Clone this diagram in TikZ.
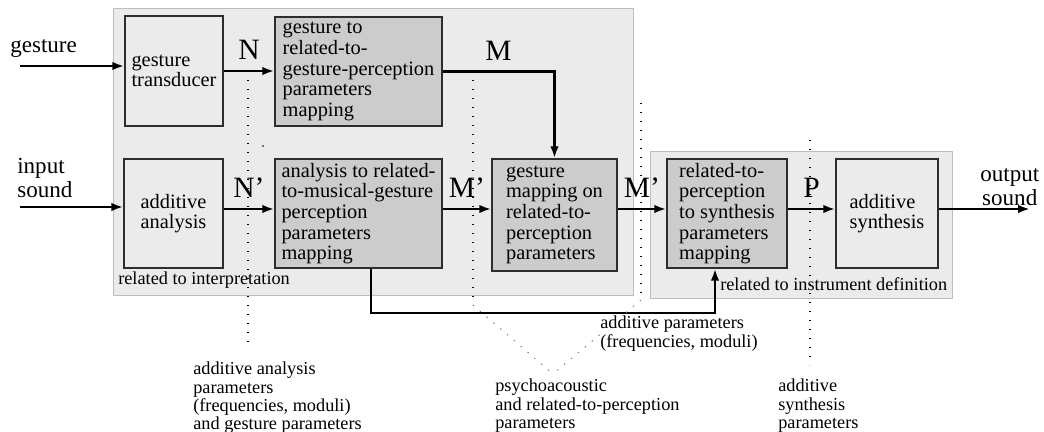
\documentclass[tikz,border=0pt]{standalone}
\usepackage{fontspec}
\setmainfont{Liberation Serif}
\usetikzlibrary{arrows.meta}
\definecolor{panelgray}{RGB}{235,235,235}
\definecolor{panelrim}{RGB}{190,190,190}
\definecolor{boxdark}{RGB}{204,204,204}
\definecolor{boxrim}{RGB}{45,45,45}
\newcommand{\blockfont}{\fontsize{14.5}{14.7}\selectfont}
\newcommand{\tagfont}{\fontsize{21}{21}\selectfont}
\newcommand{\portfont}{\fontsize{16.4}{17.5}\selectfont}
\newcommand{\remfont}{\fontsize{13}{12.9}\selectfont}

\begin{document}
\begin{tikzpicture}[x=0.025cm,y=-0.025cm,
    panel/.style={draw=panelrim,fill=panelgray,line width=0.6pt},
    block/.style={draw=boxrim,fill=panelgray,line width=0.9pt,inner sep=0pt,align=left,font=\blockfont},
    darkblock/.style={block,fill=boxdark},
    flow/.style={line width=1.9pt,-{Latex[length=8.5pt,width=6pt]}},
    tag/.style={font=\tagfont,inner sep=0pt,above=7pt},
    io/.style={font=\portfont,inner sep=0pt},
    remark/.style={font=\remfont,inner sep=0pt,align=left,anchor=north west},
    guide/.style={line width=1pt,dash pattern=on 1pt off 5.4pt},
    slant/.style={guide,gray,line width=0.7pt}]

    \useasboundingbox (0,0) rectangle (1044,432);

    % the two grey areas
    \draw[panel] (113,8) rectangle (633,295);
    \draw[panel] (650,151) rectangle (952,298);
    \node[remark,anchor=base west] (interp) at (118,284) {related to interpretation};
    \node[remark,anchor=base west] (instr) at (720,290) {related to instrument definition};

    % blocks
    \node[block,minimum width=2.45cm,minimum height=2.75cm] (trans) at (174,71) {gesture\\transducer};
    \node[block,minimum width=2.475cm,minimum height=2.725cm] (ana) at (173.5,213.5) {additive\\analysis};
    \node[darkblock,minimum width=4.175cm,minimum height=2.725cm] (gtp) at (358.5,71.5)
        {gesture to\\related-to-\\gesture-perception\\parameters\\mapping};
    \node[darkblock,minimum width=4.175cm,minimum height=2.725cm] (atr) at (358.5,213.5)
        {analysis to related-\\to-musical-gesture\\perception\\parameters\\mapping};
    \node[darkblock,minimum width=3.125cm,minimum height=2.8cm] (gmap) at (554.5,215)
        {gesture\\mapping on\\related-to-\\perception\\parameters};
    \node[darkblock,minimum width=3cm,minimum height=2.725cm] (rps) at (727,213.5)
        {related-to-\\perception\\to synthesis\\parameters\\mapping};
    \node[block,minimum width=2.55cm,minimum height=2.725cm] (syn) at (887,213.5) {additive\\synthesis};

    % inputs and output
    \coordinate (gin) at (20,66);
    \coordinate (sin) at (20,207);
    \coordinate (sout) at (1030,209);
    \coordinate (row) at (0,209);
    \node[io,anchor=west] (gestlbl) at (10,49) {gesture};
    \node[io,align=left,anchor=west] (inlbl) at (17,178) {input\\sound};
    \node[io,align=center,anchor=west] (outlbl) at (980,187) {output\\sound};
    \draw[flow] (gin) -- (trans.west |- gin);
    \draw[flow] (sin) -- (ana.west |- sin);
    \draw[flow] (syn.east |- row) -- (sout);

    % signal flow
    \draw[flow] (trans.east) -- (trans.east -| gtp.west) node[tag,midway] (lblN) {N};
    \draw[flow] (gtp.east) -| (gmap.north) node[tag,pos=0.25] (lblM) {M};
    \draw[flow] (ana.east |- row) -- (atr.west |- row) node[tag,midway] (lblNp) {N’};
    \draw[flow] (atr.east |- row) -- (gmap.west |- row) node[tag,midway] (lblMp) {M’};
    \draw[flow] (gmap.east |- row) -- (rps.west |- row) node[tag,midway] (lblMq) {M’};
    \draw[flow] (rps.east |- row) -- (syn.west |- row) node[tag,midway] (lblP) {P};

    \coordinate (fbl) at (371,313);
    \coordinate (fbr) at (715,313);
    \draw[flow] (atr.south -| fbl) -- (fbl) -- (fbr) -- (rps.south -| fbr);

    % dotted guides
    \draw[guide] (248,80) -- (248,345);
    \fill (263,146) circle (0.7pt);
    \draw[guide] (473,80) -- (473,305);
    \draw[slant] (473,305) -- (553,374);
    \draw[guide] (641,103) -- (641,300);
    \draw[slant] (641,300) -- (553,374);
    \draw[guide] (810,140) -- (810,365);

    % parameter notes
    \node[remark,fill=white] (addpar) at (600,316) {additive parameters\\(frequencies, moduli)};
    \node[remark] (anapar) at (193,362) {additive analysis\\parameters\\(frequencies, moduli)\\and gesture parameters};
    \node[remark] (psypar) at (495,379) {psychoacoustic\\and related-to-perception\\parameters};
    \node[remark] (synpar) at (778,379) {additive\\synthesis\\parameters};
\end{tikzpicture}
\end{document}
